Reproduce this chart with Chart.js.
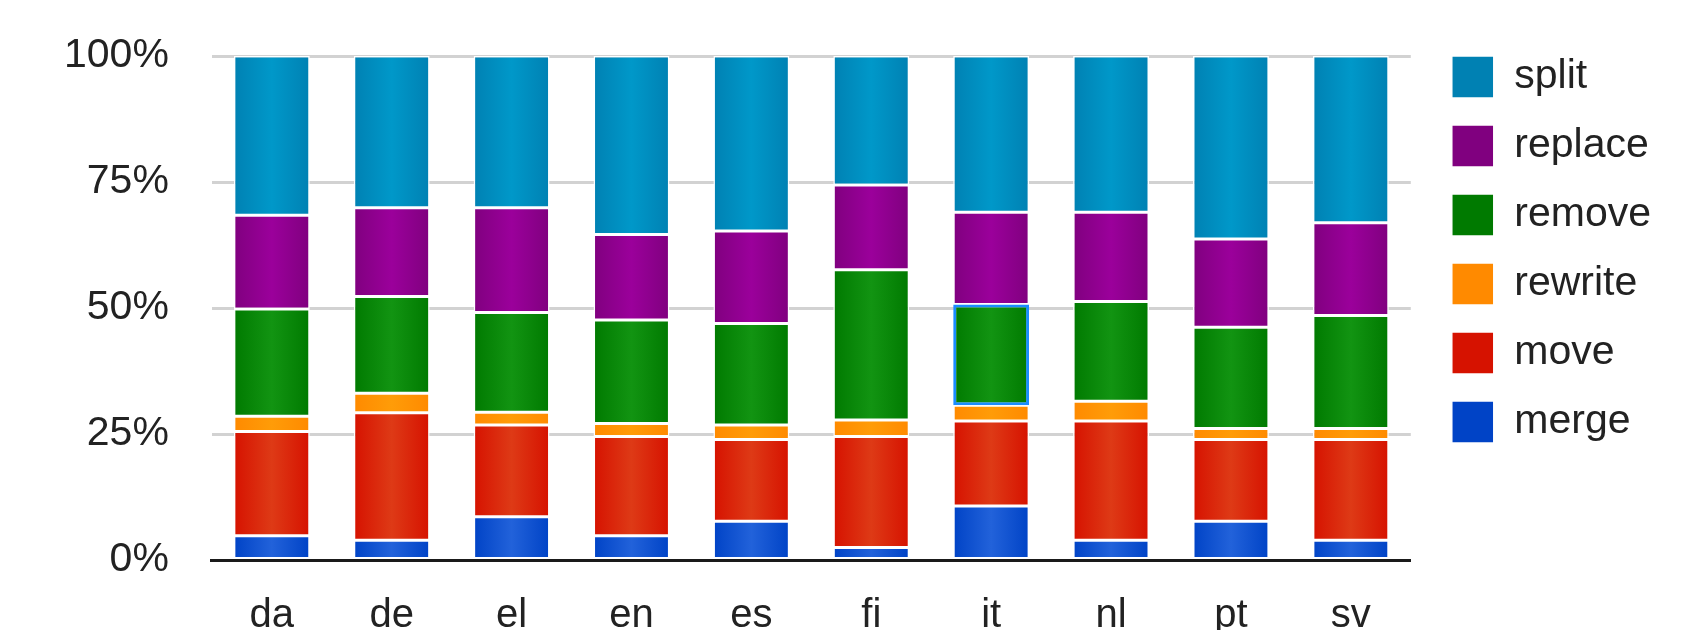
<!DOCTYPE html>
<html>
<head>
<meta charset="utf-8">
<script src="https://cdn.jsdelivr.net/npm/chart.js@4/dist/chart.umd.min.js"></script>
<style>
  html, body { margin: 0; padding: 0; background: #ffffff; }
  #wrap { width: 1699px; height: 630px; }
</style>
</head>
<body>
<div id="wrap"><canvas id="chart" width="1699" height="630"></canvas></div>
<script>
// Share of each edit type per language (percent of all edits)
const languages = ['da', 'de', 'el', 'en', 'es', 'fi', 'it', 'nl', 'pt', 'sv'];
const merge   = [4.8, 3.9, 8.6, 4.8, 7.7, 2.5, 10.7, 3.9, 7.7, 3.9];
const move    = [20.7, 25.3, 18.2, 19.7, 16.2, 22.0, 16.9, 23.7, 16.2, 20.0];
const rewrite = [3.0, 3.9, 2.5, 2.6, 2.9, 3.3, 3.1, 3.9, 2.2, 2.2];
const remove  = [21.3, 19.2, 19.8, 20.5, 20.1, 29.8, 20.0, 19.8, 20.1, 22.4];
const replace = [18.6, 17.6, 20.8, 17.0, 18.4, 16.8, 18.3, 17.7, 17.5, 18.4];
const split   = [31.6, 30.1, 30.1, 35.4, 34.7, 25.6, 31.0, 31.0, 36.3, 33.1];
const yTicks  = [0, 25, 50, 75, 100];

// The selected segment gets a blue outline
const selected = { series: 'remove', category: 'it' };

const BAR_FRACTION = 0.633;
const FONT = "'Liberation Sans', Arial, sans-serif";

// Horizontal shading: darker edges, lighter middle of each bar
function shaded(edge, mid) {
  return (c) => {
    const chart = c.chart;
    const xs = chart.scales && chart.scales.x;
    if (!chart.chartArea || !xs || c.type !== 'data') return edge;
    const cx = xs.getPixelForValue(c.dataIndex);
    const half = xs.width / languages.length * BAR_FRACTION / 2;
    const g = chart.ctx.createLinearGradient(cx - half, 0, cx + half, 0);
    g.addColorStop(0, edge);
    g.addColorStop(0.5, mid);
    g.addColorStop(1, edge);
    return g;
  };
}

function isSelected(c, name) {
  return c.type === 'data' && name === selected.series &&
         languages[c.dataIndex] === selected.category;
}

function series(name, values, edge, mid) {
  return {
    label: name,
    data: values,
    backgroundColor: shaded(edge, mid),
    borderColor: (c) => isSelected(c, name) ? '#1a8cff' : '#ffffff',
    borderWidth: (c) => isSelected(c, name) ? 3 : 1.5,
    borderSkipped: false
  };
}

// Moves the legend block to its place beside the plot
const legendNudge = {
  id: 'legendNudge',
  afterLayout(chart, args, opts) {
    const lg = chart.legend;
    if (!lg) return;
    lg.left += opts.dx; lg.right += opts.dx;
    lg.top += opts.dy; lg.bottom += opts.dy;
  }
};

new Chart(document.getElementById('chart'), {
  type: 'bar',
  data: {
    labels: languages,
    datasets: [
      series('merge',   merge,   '#0043c6', '#2262da'),
      series('move',    move,    '#d61200', '#de3a16'),
      series('rewrite', rewrite, '#ff8a00', '#ff9c08'),
      series('remove',  remove,  '#007a00', '#129412'),
      series('replace', replace, '#80007f', '#9b009b'),
      series('split',   split,   '#0081b3', '#0098c9')
    ]
  },
  options: {
    responsive: false,
    animation: false,
    devicePixelRatio: 1,
    layout: { padding: { top: 56, left: 21, right: 52, bottom: 0 } },
    datasets: {
      bar: { categoryPercentage: 1, barPercentage: BAR_FRACTION }
    },
    scales: {
      x: {
        stacked: true,
        grid: { display: false, drawTicks: false },
        border: { display: true, color: '#1a1a1a', width: 3, z: 1 },
        ticks: {
          color: '#222222',
          padding: 32,
          font: { family: FONT, size: 40 }
        },
        afterFit: (scale) => { scale.height = 70; }
      },
      y: {
        stacked: true,
        min: 0,
        max: 100,
        afterBuildTicks: (scale) => { scale.ticks = yTicks.map(v => ({ value: v })); },
        afterFit: (scale) => { scale.paddingTop = 0; scale.paddingBottom = 0; },
        grid: { color: '#d2d2d2', lineWidth: 3, drawTicks: false },
        border: { display: false },
        ticks: {
          color: '#222222',
          padding: 43,
          font: { family: FONT, size: 41 },
          callback: (v) => v + '%'
        }
      }
    },
    plugins: {
      legend: {
        position: 'right',
        align: 'start',
        reverse: true,
        labels: {
          boxWidth: 42,
          boxHeight: 42,
          padding: 27,
          color: '#222222',
          font: { family: FONT, size: 41 }
        }
      },
      legendNudge: { dx: 14, dy: -27 },
      tooltip: { enabled: false }
    }
  },
  plugins: [legendNudge]
});
</script>
</body>
</html>
